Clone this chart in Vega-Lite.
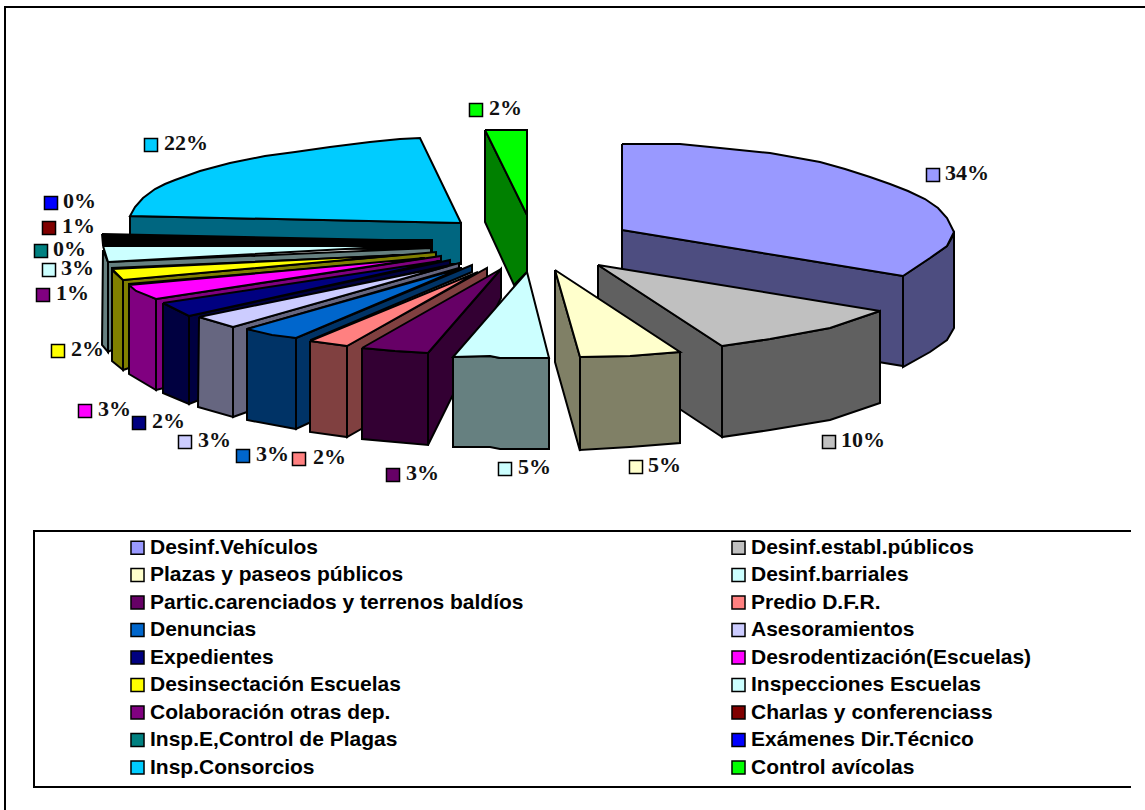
{"$schema":"https://vega.github.io/schema/vega-lite/v6.json","width":1145,"height":810,"padding":0,"autosize":{"type":"none"},"background":"white","config":{"view":{"stroke":null}},
"datasets":{
"formas":[
{"p":"marco","f":"marco","x":5,"y":810},{"p":"marco","f":"marco","x":5,"y":7},{"p":"marco","f":"marco","x":1145,"y":7},
{"p":"ley","f":"marco","x":1131,"y":531},{"p":"ley","f":"marco","x":34,"y":531},{"p":"ley","f":"marco","x":34,"y":787},{"p":"ley","f":"marco","x":1131,"y":787},
{"p":"c1","f":"Insp.Consorcios|lado","x":130,"y":216},{"p":"c1","f":"Insp.Consorcios|lado","x":461,"y":223},{"p":"c1","f":"Insp.Consorcios|lado","x":461,"y":264},{"p":"c1","f":"Insp.Consorcios|lado","x":432,"y":264},{"p":"c1","f":"Insp.Consorcios|lado","x":432,"y":240},{"p":"c1","f":"Insp.Consorcios|lado","x":130,"y":240},{"p":"c1","f":"Insp.Consorcios|lado","x":130,"y":216},
{"p":"c2","f":"Insp.Consorcios","x":461,"y":223},{"p":"c2","f":"Insp.Consorcios","x":420,"y":138},{"p":"c2","f":"Insp.Consorcios","x":400,"y":139},{"p":"c2","f":"Insp.Consorcios","x":370,"y":142},{"p":"c2","f":"Insp.Consorcios","x":330,"y":147},{"p":"c2","f":"Insp.Consorcios","x":295,"y":152},{"p":"c2","f":"Insp.Consorcios","x":265,"y":156},{"p":"c2","f":"Insp.Consorcios","x":230,"y":163},{"p":"c2","f":"Insp.Consorcios","x":200,"y":171},{"p":"c2","f":"Insp.Consorcios","x":175,"y":180},{"p":"c2","f":"Insp.Consorcios","x":165,"y":184},{"p":"c2","f":"Insp.Consorcios","x":155,"y":189},{"p":"c2","f":"Insp.Consorcios","x":143,"y":198},{"p":"c2","f":"Insp.Consorcios","x":135,"y":207},{"p":"c2","f":"Insp.Consorcios","x":130,"y":216},{"p":"c2","f":"Insp.Consorcios","x":461,"y":223},
{"p":"n1","f":"negro","x":102,"y":234},{"p":"n1","f":"negro","x":432,"y":241},{"p":"n1","f":"negro","x":432,"y":250},{"p":"n1","f":"negro","x":103,"y":245},{"p":"n1","f":"negro","x":102,"y":234},
{"p":"n2","f":"Charlas y conferenciass","x":104,"y":237},{"p":"n2","f":"Charlas y conferenciass","x":300,"y":240},{"p":"n2","f":"Charlas y conferenciass","x":104,"y":238},{"p":"n2","f":"Charlas y conferenciass","x":104,"y":237},
{"p":"i1","f":"Inspecciones Escuelas|lado","x":108,"y":262},{"p":"i1","f":"Inspecciones Escuelas|lado","x":431,"y":248},{"p":"i1","f":"Inspecciones Escuelas|lado","x":431,"y":254},{"p":"i1","f":"Inspecciones Escuelas|lado","x":112,"y":268},{"p":"i1","f":"Inspecciones Escuelas|lado","x":112,"y":350},{"p":"i1","f":"Inspecciones Escuelas|lado","x":108,"y":352},{"p":"i1","f":"Inspecciones Escuelas|lado","x":108,"y":262},
{"p":"i2","f":"Inspecciones Escuelas|lado","x":103,"y":250},{"p":"i2","f":"Inspecciones Escuelas|lado","x":108,"y":262},{"p":"i2","f":"Inspecciones Escuelas|lado","x":108,"y":352},{"p":"i2","f":"Inspecciones Escuelas|lado","x":102,"y":345},{"p":"i2","f":"Inspecciones Escuelas|lado","x":103,"y":250},
{"p":"i3","f":"Inspecciones Escuelas","x":103,"y":246},{"p":"i3","f":"Inspecciones Escuelas","x":400,"y":246},{"p":"i3","f":"Inspecciones Escuelas","x":108,"y":262},{"p":"i3","f":"Inspecciones Escuelas","x":103,"y":246},
{"p":"y1","f":"Desinsectación Escuelas|lado","x":123,"y":280},{"p":"y1","f":"Desinsectación Escuelas|lado","x":436,"y":252},{"p":"y1","f":"Desinsectación Escuelas|lado","x":436,"y":258},{"p":"y1","f":"Desinsectación Escuelas|lado","x":129,"y":284},{"p":"y1","f":"Desinsectación Escuelas|lado","x":129,"y":368},{"p":"y1","f":"Desinsectación Escuelas|lado","x":123,"y":370},{"p":"y1","f":"Desinsectación Escuelas|lado","x":123,"y":280},
{"p":"y2","f":"Desinsectación Escuelas|lado","x":112,"y":270},{"p":"y2","f":"Desinsectación Escuelas|lado","x":123,"y":280},{"p":"y2","f":"Desinsectación Escuelas|lado","x":123,"y":370},{"p":"y2","f":"Desinsectación Escuelas|lado","x":112,"y":361},{"p":"y2","f":"Desinsectación Escuelas|lado","x":112,"y":270},
{"p":"y3","f":"Desinsectación Escuelas","x":112,"y":269},{"p":"y3","f":"Desinsectación Escuelas","x":400,"y":255},{"p":"y3","f":"Desinsectación Escuelas","x":123,"y":280},{"p":"y3","f":"Desinsectación Escuelas","x":112,"y":269},
{"p":"m1","f":"Desrodentización(Escuelas)|lado","x":156,"y":299},{"p":"m1","f":"Desrodentización(Escuelas)|lado","x":441,"y":256},{"p":"m1","f":"Desrodentización(Escuelas)|lado","x":441,"y":262},{"p":"m1","f":"Desrodentización(Escuelas)|lado","x":164,"y":304},{"p":"m1","f":"Desrodentización(Escuelas)|lado","x":164,"y":388},{"p":"m1","f":"Desrodentización(Escuelas)|lado","x":156,"y":390},{"p":"m1","f":"Desrodentización(Escuelas)|lado","x":156,"y":299},
{"p":"m2","f":"Desrodentización(Escuelas)|lado","x":129,"y":285},{"p":"m2","f":"Desrodentización(Escuelas)|lado","x":156,"y":299},{"p":"m2","f":"Desrodentización(Escuelas)|lado","x":156,"y":390},{"p":"m2","f":"Desrodentización(Escuelas)|lado","x":129,"y":374},{"p":"m2","f":"Desrodentización(Escuelas)|lado","x":129,"y":285},
{"p":"m3","f":"Desrodentización(Escuelas)","x":129,"y":285},{"p":"m3","f":"Desrodentización(Escuelas)","x":136,"y":291},{"p":"m3","f":"Desrodentización(Escuelas)","x":156,"y":299},{"p":"m3","f":"Desrodentización(Escuelas)","x":425,"y":258},{"p":"m3","f":"Desrodentización(Escuelas)","x":129,"y":285},
{"p":"e1","f":"Expedientes|lado","x":189,"y":316},{"p":"e1","f":"Expedientes|lado","x":450,"y":260},{"p":"e1","f":"Expedientes|lado","x":450,"y":265},{"p":"e1","f":"Expedientes|lado","x":199,"y":318},{"p":"e1","f":"Expedientes|lado","x":199,"y":400},{"p":"e1","f":"Expedientes|lado","x":189,"y":404},{"p":"e1","f":"Expedientes|lado","x":189,"y":316},
{"p":"e2","f":"Expedientes|lado","x":163,"y":303},{"p":"e2","f":"Expedientes|lado","x":189,"y":316},{"p":"e2","f":"Expedientes|lado","x":189,"y":404},{"p":"e2","f":"Expedientes|lado","x":163,"y":393},{"p":"e2","f":"Expedientes|lado","x":163,"y":303},
{"p":"e3","f":"Expedientes","x":163,"y":303},{"p":"e3","f":"Expedientes","x":189,"y":316},{"p":"e3","f":"Expedientes","x":440,"y":261},{"p":"e3","f":"Expedientes","x":163,"y":303},
{"p":"a1","f":"Asesoramientos|lado","x":233,"y":327},{"p":"a1","f":"Asesoramientos|lado","x":459,"y":263},{"p":"a1","f":"Asesoramientos|lado","x":459,"y":268},{"p":"a1","f":"Asesoramientos|lado","x":247,"y":329},{"p":"a1","f":"Asesoramientos|lado","x":247,"y":412},{"p":"a1","f":"Asesoramientos|lado","x":233,"y":417},{"p":"a1","f":"Asesoramientos|lado","x":233,"y":327},
{"p":"a2","f":"Asesoramientos|lado","x":199,"y":317},{"p":"a2","f":"Asesoramientos|lado","x":233,"y":327},{"p":"a2","f":"Asesoramientos|lado","x":233,"y":417},{"p":"a2","f":"Asesoramientos|lado","x":198,"y":407},{"p":"a2","f":"Asesoramientos|lado","x":199,"y":317},
{"p":"a3","f":"Asesoramientos","x":199,"y":317},{"p":"a3","f":"Asesoramientos","x":233,"y":327},{"p":"a3","f":"Asesoramientos","x":448,"y":266},{"p":"a3","f":"Asesoramientos","x":199,"y":317},
{"p":"d1","f":"Denuncias|lado","x":296,"y":338},{"p":"d1","f":"Denuncias|lado","x":472,"y":265},{"p":"d1","f":"Denuncias|lado","x":472,"y":272},{"p":"d1","f":"Denuncias|lado","x":311,"y":340},{"p":"d1","f":"Denuncias|lado","x":311,"y":422},{"p":"d1","f":"Denuncias|lado","x":296,"y":429},{"p":"d1","f":"Denuncias|lado","x":296,"y":338},
{"p":"d2","f":"Denuncias|lado","x":247,"y":329},{"p":"d2","f":"Denuncias|lado","x":296,"y":338},{"p":"d2","f":"Denuncias|lado","x":296,"y":429},{"p":"d2","f":"Denuncias|lado","x":247,"y":420},{"p":"d2","f":"Denuncias|lado","x":247,"y":329},
{"p":"d3","f":"Denuncias","x":247,"y":329},{"p":"d3","f":"Denuncias","x":272,"y":335},{"p":"d3","f":"Denuncias","x":296,"y":338},{"p":"d3","f":"Denuncias","x":462,"y":268},{"p":"d3","f":"Denuncias","x":247,"y":329},
{"p":"r1","f":"Predio D.F.R.|lado","x":347,"y":346},{"p":"r1","f":"Predio D.F.R.|lado","x":487,"y":268},{"p":"r1","f":"Predio D.F.R.|lado","x":487,"y":278},{"p":"r1","f":"Predio D.F.R.|lado","x":363,"y":349},{"p":"r1","f":"Predio D.F.R.|lado","x":363,"y":428},{"p":"r1","f":"Predio D.F.R.|lado","x":347,"y":437},{"p":"r1","f":"Predio D.F.R.|lado","x":347,"y":346},
{"p":"r2","f":"Predio D.F.R.|lado","x":310,"y":341},{"p":"r2","f":"Predio D.F.R.|lado","x":347,"y":346},{"p":"r2","f":"Predio D.F.R.|lado","x":347,"y":437},{"p":"r2","f":"Predio D.F.R.|lado","x":310,"y":432},{"p":"r2","f":"Predio D.F.R.|lado","x":310,"y":341},
{"p":"r3","f":"Predio D.F.R.","x":310,"y":341},{"p":"r3","f":"Predio D.F.R.","x":347,"y":346},{"p":"r3","f":"Predio D.F.R.","x":478,"y":272},{"p":"r3","f":"Predio D.F.R.","x":310,"y":341},
{"p":"v1","f":"Desinf.Vehículos|lado","x":622,"y":230},{"p":"v1","f":"Desinf.Vehículos|lado","x":903,"y":276},{"p":"v1","f":"Desinf.Vehículos|lado","x":903,"y":366},{"p":"v1","f":"Desinf.Vehículos|lado","x":622,"y":320},{"p":"v1","f":"Desinf.Vehículos|lado","x":622,"y":230},
{"p":"v2","f":"Desinf.Vehículos|lado","x":903,"y":276},{"p":"v2","f":"Desinf.Vehículos|lado","x":930,"y":258},{"p":"v2","f":"Desinf.Vehículos|lado","x":947,"y":246},{"p":"v2","f":"Desinf.Vehículos|lado","x":954,"y":234},{"p":"v2","f":"Desinf.Vehículos|lado","x":954,"y":328},{"p":"v2","f":"Desinf.Vehículos|lado","x":947,"y":340},{"p":"v2","f":"Desinf.Vehículos|lado","x":930,"y":352},{"p":"v2","f":"Desinf.Vehículos|lado","x":903,"y":367},{"p":"v2","f":"Desinf.Vehículos|lado","x":903,"y":276},
{"p":"v3","f":"Desinf.Vehículos","x":622,"y":144},{"p":"v3","f":"Desinf.Vehículos","x":680,"y":144},{"p":"v3","f":"Desinf.Vehículos","x":720,"y":148},{"p":"v3","f":"Desinf.Vehículos","x":770,"y":153},{"p":"v3","f":"Desinf.Vehículos","x":820,"y":162},{"p":"v3","f":"Desinf.Vehículos","x":845,"y":169},{"p":"v3","f":"Desinf.Vehículos","x":870,"y":177},{"p":"v3","f":"Desinf.Vehículos","x":890,"y":184},{"p":"v3","f":"Desinf.Vehículos","x":908,"y":191},{"p":"v3","f":"Desinf.Vehículos","x":925,"y":199},{"p":"v3","f":"Desinf.Vehículos","x":938,"y":208},{"p":"v3","f":"Desinf.Vehículos","x":947,"y":218},{"p":"v3","f":"Desinf.Vehículos","x":954,"y":232},{"p":"v3","f":"Desinf.Vehículos","x":947,"y":246},{"p":"v3","f":"Desinf.Vehículos","x":930,"y":258},{"p":"v3","f":"Desinf.Vehículos","x":903,"y":276},{"p":"v3","f":"Desinf.Vehículos","x":622,"y":230},{"p":"v3","f":"Desinf.Vehículos","x":622,"y":144},
{"p":"g1","f":"Desinf.establ.públicos|lado","x":598,"y":265},{"p":"g1","f":"Desinf.establ.públicos|lado","x":722,"y":346},{"p":"g1","f":"Desinf.establ.públicos|lado","x":722,"y":437},{"p":"g1","f":"Desinf.establ.públicos|lado","x":598,"y":355},{"p":"g1","f":"Desinf.establ.públicos|lado","x":598,"y":265},
{"p":"g2","f":"Desinf.establ.públicos|lado","x":722,"y":346},{"p":"g2","f":"Desinf.establ.públicos|lado","x":770,"y":339},{"p":"g2","f":"Desinf.establ.públicos|lado","x":830,"y":328},{"p":"g2","f":"Desinf.establ.públicos|lado","x":880,"y":311},{"p":"g2","f":"Desinf.establ.públicos|lado","x":880,"y":403},{"p":"g2","f":"Desinf.establ.públicos|lado","x":830,"y":420},{"p":"g2","f":"Desinf.establ.públicos|lado","x":770,"y":430},{"p":"g2","f":"Desinf.establ.públicos|lado","x":722,"y":437},{"p":"g2","f":"Desinf.establ.públicos|lado","x":722,"y":346},
{"p":"g3","f":"Desinf.establ.públicos","x":598,"y":265},{"p":"g3","f":"Desinf.establ.públicos","x":880,"y":311},{"p":"g3","f":"Desinf.establ.públicos","x":830,"y":328},{"p":"g3","f":"Desinf.establ.públicos","x":770,"y":339},{"p":"g3","f":"Desinf.establ.públicos","x":722,"y":346},{"p":"g3","f":"Desinf.establ.públicos","x":598,"y":265},
{"p":"z1","f":"Plazas y paseos públicos|lado","x":555,"y":270},{"p":"z1","f":"Plazas y paseos públicos|lado","x":580,"y":357},{"p":"z1","f":"Plazas y paseos públicos|lado","x":580,"y":451},{"p":"z1","f":"Plazas y paseos públicos|lado","x":555,"y":362},{"p":"z1","f":"Plazas y paseos públicos|lado","x":555,"y":270},
{"p":"z2","f":"Plazas y paseos públicos|lado","x":580,"y":357},{"p":"z2","f":"Plazas y paseos públicos|lado","x":630,"y":356},{"p":"z2","f":"Plazas y paseos públicos|lado","x":680,"y":352},{"p":"z2","f":"Plazas y paseos públicos|lado","x":680,"y":443},{"p":"z2","f":"Plazas y paseos públicos|lado","x":630,"y":447},{"p":"z2","f":"Plazas y paseos públicos|lado","x":580,"y":450},{"p":"z2","f":"Plazas y paseos públicos|lado","x":580,"y":357},
{"p":"z3","f":"Plazas y paseos públicos","x":555,"y":270},{"p":"z3","f":"Plazas y paseos públicos","x":680,"y":352},{"p":"z3","f":"Plazas y paseos públicos","x":630,"y":356},{"p":"z3","f":"Plazas y paseos públicos","x":580,"y":357},{"p":"z3","f":"Plazas y paseos públicos","x":555,"y":270},
{"p":"o1","f":"Control avícolas|lado","x":485,"y":130},{"p":"o1","f":"Control avícolas|lado","x":527,"y":215},{"p":"o1","f":"Control avícolas|lado","x":527,"y":272},{"p":"o1","f":"Control avícolas|lado","x":514,"y":285},{"p":"o1","f":"Control avícolas|lado","x":485,"y":222},{"p":"o1","f":"Control avícolas|lado","x":485,"y":130},
{"p":"o2","f":"Control avícolas","x":485,"y":130},{"p":"o2","f":"Control avícolas","x":527,"y":130},{"p":"o2","f":"Control avícolas","x":527,"y":215},{"p":"o2","f":"Control avícolas","x":485,"y":130},
{"p":"t1","f":"Partic.carenciados y terrenos baldíos|lado","x":428,"y":353},{"p":"t1","f":"Partic.carenciados y terrenos baldíos|lado","x":501,"y":269},{"p":"t1","f":"Partic.carenciados y terrenos baldíos|lado","x":501,"y":298},{"p":"t1","f":"Partic.carenciados y terrenos baldíos|lado","x":428,"y":445},{"p":"t1","f":"Partic.carenciados y terrenos baldíos|lado","x":428,"y":353},
{"p":"t2","f":"Partic.carenciados y terrenos baldíos|lado","x":362,"y":348},{"p":"t2","f":"Partic.carenciados y terrenos baldíos|lado","x":395,"y":351},{"p":"t2","f":"Partic.carenciados y terrenos baldíos|lado","x":428,"y":353},{"p":"t2","f":"Partic.carenciados y terrenos baldíos|lado","x":428,"y":445},{"p":"t2","f":"Partic.carenciados y terrenos baldíos|lado","x":395,"y":442},{"p":"t2","f":"Partic.carenciados y terrenos baldíos|lado","x":362,"y":439},{"p":"t2","f":"Partic.carenciados y terrenos baldíos|lado","x":362,"y":348},
{"p":"t3","f":"Partic.carenciados y terrenos baldíos","x":362,"y":348},{"p":"t3","f":"Partic.carenciados y terrenos baldíos","x":501,"y":269},{"p":"t3","f":"Partic.carenciados y terrenos baldíos","x":428,"y":353},{"p":"t3","f":"Partic.carenciados y terrenos baldíos","x":395,"y":351},{"p":"t3","f":"Partic.carenciados y terrenos baldíos","x":362,"y":348},
{"p":"b1","f":"Desinf.barriales|lado","x":453,"y":357},{"p":"b1","f":"Desinf.barriales|lado","x":490,"y":356},{"p":"b1","f":"Desinf.barriales|lado","x":500,"y":358},{"p":"b1","f":"Desinf.barriales|lado","x":549,"y":358},{"p":"b1","f":"Desinf.barriales|lado","x":549,"y":449},{"p":"b1","f":"Desinf.barriales|lado","x":500,"y":449},{"p":"b1","f":"Desinf.barriales|lado","x":490,"y":447},{"p":"b1","f":"Desinf.barriales|lado","x":453,"y":447},{"p":"b1","f":"Desinf.barriales|lado","x":453,"y":357},
{"p":"b2","f":"Desinf.barriales","x":527,"y":272},{"p":"b2","f":"Desinf.barriales","x":549,"y":358},{"p":"b2","f":"Desinf.barriales","x":500,"y":358},{"p":"b2","f":"Desinf.barriales","x":490,"y":356},{"p":"b2","f":"Desinf.barriales","x":453,"y":357},{"p":"b2","f":"Desinf.barriales","x":527,"y":272}
],
"etiquetas":[
{"c":"Desinf.Vehículos","pct":"34%","x":933,"y":175,"tx":945},
{"c":"Desinf.establ.públicos","pct":"10%","x":829,"y":442,"tx":841},
{"c":"Plazas y paseos públicos","pct":"5%","x":636,"y":467,"tx":648},
{"c":"Desinf.barriales","pct":"5%","x":505,"y":469,"tx":518},
{"c":"Partic.carenciados y terrenos baldíos","pct":"3%","x":393,"y":475,"tx":406},
{"c":"Predio D.F.R.","pct":"2%","x":299,"y":459,"tx":313},
{"c":"Denuncias","pct":"3%","x":243,"y":456,"tx":256},
{"c":"Asesoramientos","pct":"3%","x":185,"y":442,"tx":198},
{"c":"Expedientes","pct":"2%","x":139,"y":423,"tx":152},
{"c":"Desrodentización(Escuelas)","pct":"3%","x":85,"y":411,"tx":98},
{"c":"Desinsectación Escuelas","pct":"2%","x":58,"y":351,"tx":71},
{"c":"Inspecciones Escuelas","pct":"3%","x":49,"y":270,"tx":61},
{"c":"Colaboración otras dep.","pct":"1%","x":43,"y":295,"tx":56},
{"c":"Charlas y conferenciass","pct":"1%","x":49,"y":228,"tx":62},
{"c":"Insp.E,Control de Plagas","pct":"0%","x":41,"y":251,"tx":53},
{"c":"Exámenes Dir.Técnico","pct":"0%","x":51,"y":203,"tx":63},
{"c":"Insp.Consorcios","pct":"22%","x":151,"y":145,"tx":164},
{"c":"Control avícolas","pct":"2%","x":476,"y":110,"tx":489}
]},
"layer":[
{"data":{"name":"formas"},"transform":[{"window":[{"op":"row_number","as":"i"}]}],"mark":{"type":"line","stroke":"black","strokeWidth":2,"strokeJoin":"miter","interpolate":"linear"},
"encoding":{"x":{"field":"x","type":"quantitative","scale":{"domain":[0,1145],"nice":false,"zero":false},"axis":null},"y":{"field":"y","type":"quantitative","scale":{"domain":[810,0],"nice":false,"zero":false},"axis":null},"detail":{"field":"p"},"order":{"field":"i","type":"quantitative"},
"fill":{"field":"f","type":"nominal"}}},
{"data":{"name":"etiquetas"},"mark":{"type":"point","shape":"square","filled":true,"size":170,"stroke":"black","strokeWidth":1.5,"opacity":1},
"encoding":{"x":{"field":"x","type":"quantitative"},"y":{"field":"y","type":"quantitative"},
"fill":{"field":"c","type":"nominal","scale":{
"domain":["Desinf.Vehículos","Desinf.establ.públicos","Plazas y paseos públicos","Desinf.barriales","Partic.carenciados y terrenos baldíos","Predio D.F.R.","Denuncias","Asesoramientos","Expedientes","Desrodentización(Escuelas)","Desinsectación Escuelas","Inspecciones Escuelas","Colaboración otras dep.","Charlas y conferenciass","Insp.E,Control de Plagas","Exámenes Dir.Técnico","Insp.Consorcios","Control avícolas","Desinf.Vehículos|lado","Desinf.establ.públicos|lado","Plazas y paseos públicos|lado","Desinf.barriales|lado","Partic.carenciados y terrenos baldíos|lado","Predio D.F.R.|lado","Denuncias|lado","Asesoramientos|lado","Expedientes|lado","Desrodentización(Escuelas)|lado","Desinsectación Escuelas|lado","Inspecciones Escuelas|lado","Insp.Consorcios|lado","Control avícolas|lado","negro","marco"],
"range":["#9999FF","#C0C0C0","#FFFFCC","#CCFFFF","#660066","#FF8080","#0066CC","#CCCCFF","#000080","#FF00FF","#FFFF00","#CCFFFF","#800080","#800000","#008080","#0000FF","#00CCFF","#00FF00","#4D4D80","#606060","#808066","#668080","#330033","#804040","#003366","#666680","#000040","#800080","#808000","#668080","#006680","#008000","#000000","transparent"]},
"legend":{"title":null,"orient":"none","legendX":127,"legendY":537,"direction":"horizontal","columns":2,"columnPadding":204,"rowPadding":5.5,
"values":["Desinf.Vehículos","Desinf.establ.públicos","Plazas y paseos públicos","Desinf.barriales","Partic.carenciados y terrenos baldíos","Predio D.F.R.","Denuncias","Asesoramientos","Expedientes","Desrodentización(Escuelas)","Desinsectación Escuelas","Inspecciones Escuelas","Colaboración otras dep.","Charlas y conferenciass","Insp.E,Control de Plagas","Exámenes Dir.Técnico","Insp.Consorcios","Control avícolas"],
"symbolType":"square","symbolSize":170,"symbolStrokeColor":"black","symbolStrokeWidth":1.5,"labelFont":"Liberation Sans","labelFontWeight":"bold","labelFontSize":21,"labelColor":"black","labelOffset":2,"labelLimit":500,"symbolOpacity":1}}}},
{"data":{"name":"etiquetas"},"mark":{"type":"text","align":"left","baseline":"middle","dy":-2,"font":"Liberation Serif","fontWeight":"bold","fontSize":22,"color":"#111111"},
"encoding":{"x":{"field":"tx","type":"quantitative"},"y":{"field":"y","type":"quantitative"},"text":{"field":"pct"}}}
]}
